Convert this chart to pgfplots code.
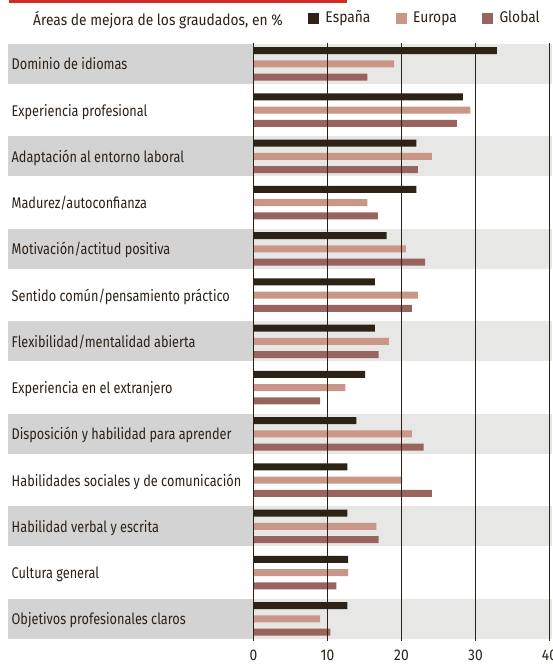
\documentclass[border=0pt]{standalone}
\usepackage{pgfplots}
\pgfplotsset{compat=1.18}
\usepackage{fontspec}
\setmainfont{Fira Sans}[FakeStretch=0.89]
\newfontfamily\lblfont{Fira Sans}[FakeStretch=0.82]
\definecolor{textcol}{HTML}{2B2118}
\definecolor{espcol}{HTML}{2D2216}
\definecolor{eurcol}{HTML}{C99688}
\definecolor{glocol}{HTML}{9A645E}
\definecolor{lblband}{HTML}{D3D3D3}
\definecolor{plotband}{HTML}{E7E7E6}
\definecolor{redcol}{HTML}{D22B26}
\begin{document}
\begin{tikzpicture}
\fontsize{15.5}{18}\selectfont
\fill[redcol] (9pt,0pt) rectangle (347pt,-3.3pt);
\node[anchor=base west, inner sep=0pt, text=textcol] at (33pt,-25.3pt) {Áreas de mejora de los graudados, en \%};
\begin{axis}[
  at={(253.5pt,-641pt)}, anchor=south west,
  scale only axis, width=296pt, height=598pt,
  xmin=0, xmax=40, ymin=0.55, ymax=13.48,
  y dir=reverse,
  clip=false,
  axis on top,
  axis line style={draw=none},
  xtick={0,10,20,30,40},
  xmajorgrids,
  major grid style={draw=textcol, line width=1.1pt},
  ytick={1,2,3,4,5,6,7,8,9,10,11,12,13},
  yticklabels={Dominio de idiomas, Experiencia profesional, Adaptación al entorno laboral, Madurez/autoconfianza, Motivación/actitud positiva, Sentido común/pensamiento práctico, Flexibilidad/mentalidad abierta, Experiencia en el extranjero, Disposición y habilidad para aprender, Habilidades sociales y de comunicación, Habilidad verbal y escrita, Cultura general, Objetivos profesionales claros},
  major tick length=0pt,
  tick label style={font=\fontsize{15.5}{18}\selectfont, text=textcol},
  /pgf/number format/assume math mode=true,
  xticklabel style={anchor=north, inner sep=0pt, yshift=-9pt},
  yticklabel style={font=\lblfont\fontsize{15.5}{18}\selectfont, anchor=base west, inner sep=0pt, xshift=-242pt, yshift=-6pt},
  xbar, bar width=7pt,
  legend columns=3,
  legend style={at={(axis description cs:0.1851,1.0418)}, anchor=west, draw=none, fill=none, inner sep=0pt, outer sep=0pt,
    font=\fontsize{15.5}{18}\selectfont, text=textcol,
    nodes={inner sep=0pt},
    /tikz/every odd column/.append style={column sep=6.2pt},
    /tikz/every even column/.append style={column sep=25.5pt}},
  legend image code/.code={\path[#1] (0pt,-5.5pt) rectangle (11pt,5.5pt);},
]
\pgfplotsinvokeforeach{1,3,5,7,9,11,13}{
  \fill[lblband] (axis cs:-33.18,#1-0.432) rectangle (axis cs:0,#1+0.432);
  \fill[plotband] (axis cs:0,#1-0.432) rectangle (axis cs:40.34,#1+0.432);
}
\addplot[fill=espcol, draw=none, bar shift=13.3pt] coordinates {
(32.9,1) (28.3,2) (22.0,3) (22.0,4) (18.0,5) (16.4,6) (16.4,7) (15.1,8) (13.9,9) (12.7,10) (12.7,11) (12.8,12) (12.7,13)};
\addlegendentry{España}
\addplot[fill=eurcol, draw=none, bar shift=0pt] coordinates {
(19.0,1) (29.3,2) (24.1,3) (15.4,4) (20.6,5) (22.2,6) (18.3,7) (12.4,8) (21.4,9) (20.1,10) (16.6,11) (12.8,12) (9.0,13)};
\addlegendentry{Europa}
\addplot[fill=glocol, draw=none, bar shift=-13.3pt] coordinates {
(15.4,1) (27.5,2) (22.2,3) (16.8,4) (23.2,5) (21.4,6) (16.9,7) (9.0,8) (23.0,9) (24.1,10) (16.9,11) (11.2,12) (10.4,13)};
\addlegendentry{Global}
\end{axis}
\pgfresetboundingbox
\useasboundingbox (0pt,0pt) rectangle (552pt,-664pt);
\end{tikzpicture}
\end{document}
